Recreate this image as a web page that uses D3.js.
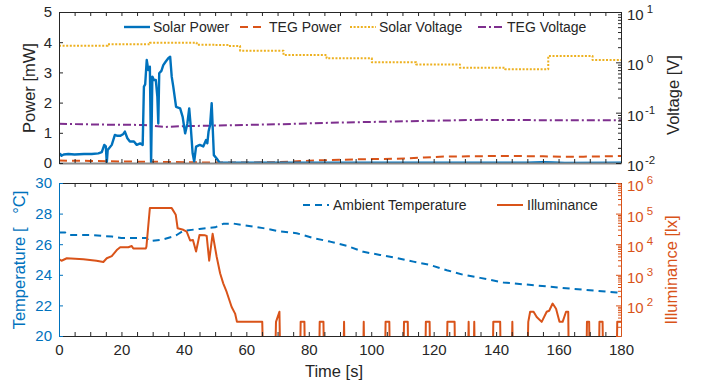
<!DOCTYPE html>
<html>
<head>
<meta charset="utf-8">
<script src="https://cdn.jsdelivr.net/npm/d3@7"></script>
<style>
  body { margin: 0; background: #fff; }
  svg { font-family: "Liberation Sans", Arial, Helvetica, sans-serif; }
</style>
</head>
<body>
<svg id="chart" width="711" height="384"></svg>
<script>
// ---- data ----
const solarPowerT = [0, 0.4, 0.8, 1.5, 3, 5, 8, 10.5, 12.6, 13.7, 14.5, 15, 15.3, 15.6, 16.9, 17.9, 18.7, 19.6, 20.5, 21.1, 21.9, 22.7, 24, 24.9, 26, 26.8, 27.2, 27.6, 28.1, 28.6, 29.1, 29.5, 29.9, 30.4, 31, 31.5, 31.8, 32.1, 32.8, 33.4, 34.2, 35, 35.6, 36.1, 36.6, 37.5, 38.8, 39.6, 40.4, 41.1, 41.7, 42.2, 42.8, 43.3, 43.9, 45.1, 46.2, 47.1, 47.5, 47.9, 48.4, 48.9, 49.4, 49.6, 50.5, 51.5, 52, 90, 150, 155, 158, 162, 180];
const solarPowerV = [0.26, 0.3, 0.24, 0.28, 0.3, 0.28, 0.3, 0.3, 0.32, 0.36, 0.6, 0.55, 0, 0.43, 0.6, 0.93, 0.9, 0.9, 0.95, 1.04, 0.82, 0.71, 0.71, 0.6, 0.65, 0.6, 2.53, 2.6, 3.41, 3.08, 3.19, 0, 2.86, 2.75, 2.75, 2.2, 1.31, 2.97, 3.05, 3.24, 3.36, 3.47, 3.52, 2.86, 2.53, 1.86, 1.81, 1.53, 0.98, 1.3, 1.81, 1.2, 0.32, 0.05, 0.54, 0.6, 0.55, 0.76, 0.65, 1.04, 1.26, 1.98, 0.76, 0.26, 0.15, 0, 0.01, 0.01, 0.01, 0.03, 0.02, 0, 0.01];

const tegPowerT = [0, 10, 20, 30, 45, 60, 70, 78, 84, 91, 100, 108, 117, 122, 131, 138, 147, 155, 161, 168, 180];
const tegPowerV = [0.08, 0.07, 0.05, 0.04, 0.02, 0.015, 0.03, 0.066, 0.09, 0.11, 0.13, 0.14, 0.18, 0.21, 0.22, 0.23, 0.23, 0.22, 0.21, 0.21, 0.23];

// step changes of the solar cell voltage
const solarVoltT = [0, 15.6, 29.1, 44.1, 50, 54, 58, 71.9, 85.7, 100.2, 114.4, 128.4, 142.9, 156.7, 170.9, 180];
const solarVoltV = [2.14, 2.28, 2.46, 2.24, 2.2, 2.11, 1.70, 1.40, 1.20, 1.0, 0.91, 0.78, 0.73, 1.34, 1.11, 1.11];

const tegVoltT = [0, 13, 27, 34, 40, 54, 71, 87, 103, 119, 135, 153, 180];
const tegVoltV = [0.060, 0.058, 0.057, 0.052, 0.054, 0.056, 0.059, 0.063, 0.066, 0.069, 0.072, 0.071, 0.071];

const ambientT = [0, 2, 3, 10, 17, 20, 28, 29, 33, 36.6, 37.7, 39.8, 45, 50, 52.6, 55.8, 65.4, 70.8, 76.1, 81.5, 86.8, 92.1, 97.5, 102.8, 108.2, 113.5, 118.9, 124.2, 129.5, 134.9, 142.3, 153, 163.7, 178.6, 180];
const ambientV = [26.76, 26.76, 26.6, 26.6, 26.5, 26.4, 26.4, 26.2, 26.3, 26.5, 26.6, 26.87, 27.0, 27.1, 27.33, 27.35, 27.05, 26.83, 26.72, 26.4, 26.17, 25.9, 25.5, 25.3, 25.1, 24.86, 24.64, 24.3, 24.0, 23.8, 23.5, 23.3, 23.1, 22.85, 22.8];

// illuminance in lx, 1 = sensor off (below the axis)
const illumT = [0, 0.8, 2.5, 7.8, 12, 14.2, 15.3, 16.9, 18.5, 19.6, 22.2, 23.3, 23.8, 26, 27.8, 28.0, 29.1, 36.1, 37.4, 38.0, 39.8, 40.9, 42, 42.9, 43.9, 45, 46.8, 47.3, 48.1, 49.2, 50.5, 51.6, 52.6, 53.7, 55.3, 56.4, 57, 65.1, 65.4,
  69.2, 69.5, 70.6, 70.9, 77.2, 77.4, 78.6, 78.8, 83.3, 83.5, 84.7, 84.9, 91.1, 91.3, 91.5, 97.4, 97.6, 97.8, 104.4, 104.6, 105.8, 106, 110.3, 110.5, 111.7, 111.9,
  117.3, 117.5, 118.7, 118.9, 124.2, 124.4, 126.7, 126.9, 131, 131.2, 131.4, 132.8, 133, 133.2, 138.9, 139.1, 141.3, 141.5, 145, 145.2, 145.4,
  150, 150.3, 150.9, 152, 153, 154.6, 156.2, 157, 158.1, 159.2, 160.3, 161.3, 162.4, 163.1, 163.3, 168.9, 169.1, 169.8, 170, 172.9, 173.1, 174.1, 174.3, 178.6, 178.8, 180];
const illumV = [3240, 2880, 3470, 3240, 2880, 2630, 3470, 4070, 6460, 7940, 7940, 8710, 7240, 7240, 7240, 8300, 151000, 151000, 91000, 33000, 29500, 25700, 13200, 13800, 5750, 20000, 19500, 18600, 2880, 21900, 3890, 1120, 525, 275, 89, 54, 29, 29, 1,
  1, 29, 62, 1, 1, 29, 29, 1, 1, 29, 29, 1, 1, 29, 1, 1, 29, 1, 1, 29, 29, 1, 1, 29, 29, 1,
  1, 29, 29, 1, 1, 29, 29, 1, 1, 29, 1, 1, 29, 1, 1, 29, 29, 1, 1, 29, 1,
  1, 29, 62, 62, 42, 29, 62, 67, 115, 78, 29, 29, 62, 62, 1, 1, 29, 29, 1, 1, 29, 29, 1, 1, 29, 29];

const timeTicks = d3.range(0, 181, 5);
const timeLabels = [0, 20, 40, 60, 80, 100, 120, 140, 160, 180];
const powerTicks = [0, 1, 2, 3, 4, 5];
const voltDecades = [-2, -1, 0, 1];
const tempTicks = [20, 22, 24, 26, 28, 30];
const illumDecades = [1, 2, 3, 4, 5, 6];

const topLegend = ['Solar Power', 'TEG Power', 'Solar Voltage', 'TEG Voltage'];
const bottomLegend = ['Ambient Temperature', 'Illuminance'];

// ---- colours and layout ----
const BLUE = '#0072BD', ORANGE = '#D95319', YELLOW = '#EDB120', PURPLE = '#7E2F8E', AX = '#262626';
const left = 59, right = 621;
const topPanel = { y0: 12, y1: 163 };
const botPanel = { y0: 183, y1: 336 };

const svg = d3.select('#chart');

const x = d3.scaleLinear().domain([0, 180]).range([left, right]);
const yPow = d3.scaleLinear().domain([0, 5]).range([topPanel.y1, topPanel.y0]);
const yVolt = d3.scaleLog().domain([0.01, 10]).range([topPanel.y1, topPanel.y0]);
const yTemp = d3.scaleLinear().domain([20, 30]).range([botPanel.y1, botPanel.y0]);
const yLux = d3.scaleLog().domain([10, 1e6]).range([botPanel.y1, botPanel.y0]);

const defs = svg.append('defs');
[['clipTop', topPanel], ['clipBot', botPanel]].forEach(([id, p]) => {
  defs.append('clipPath').attr('id', id)
    .append('rect').attr('x', left).attr('y', p.y0).attr('width', right - left).attr('height', p.y1 - p.y0);
});

function series(ts, vs) {
  return ts.map((t, i) => ({ t: t, v: vs[i] }));
}

function drawLine(g, data, yScale, color, dash, width, curve) {
  const line = d3.line().x(d => x(d.t)).y(d => yScale(d.v)).curve(curve || d3.curveLinear);
  g.append('path')
    .datum(data)
    .attr('fill', 'none')
    .attr('stroke', color)
    .attr('stroke-width', width)
    .attr('stroke-dasharray', dash)
    .attr('stroke-linejoin', 'round')
    .attr('d', line);
}

function styleAxis(g, color) {
  g.selectAll('path, line').attr('stroke', color);
  g.selectAll('text').attr('fill', color).style('font-size', '15px');
  g.select('.domain').attr('stroke-width', 1);
}

function logLabels(g, decades, yScale, xPos, color) {
  decades.forEach(e => {
    const yy = yScale(Math.pow(10, e));
    g.append('text').attr('fill', color).style('font-size', '15px')
      .attr('x', xPos).attr('y', yy + 8).text('10');
    g.append('text').attr('fill', color).style('font-size', '11.5px')
      .attr('x', xPos + 23).attr('y', yy + 1).attr('text-anchor', 'middle')
      .text(String(e));
  });
}

function minorLogTicks(lo, hi) {
  const out = [];
  for (let e = lo; e < hi; e++) {
    for (let k = 2; k <= 9; k++) out.push(k * Math.pow(10, e));
  }
  return out;
}

function timeAxes(p, withLabels) {
  const b = svg.append('g').attr('transform', `translate(0,${p.y1})`)
    .call(d3.axisBottom(x).tickValues(timeTicks).tickSize(-4).tickSizeOuter(0).tickPadding(8)
      .tickFormat(d => (withLabels && timeLabels.includes(d)) ? d : ''));
  styleAxis(b, AX);
  const t = svg.append('g').attr('transform', `translate(0,${p.y0})`)
    .call(d3.axisTop(x).tickValues(timeTicks).tickSize(-4).tickSizeOuter(0).tickFormat(''));
  styleAxis(t, AX);
  return b;
}

// ---- top panel: power and voltage ----
const gTop = svg.append('g').attr('clip-path', 'url(#clipTop)');
drawLine(gTop, series(solarVoltT, solarVoltV), yVolt, YELLOW, '2,1.6', 2, d3.curveStepAfter);
drawLine(gTop, series(tegVoltT, tegVoltV), yVolt, PURPLE, '8,3,2,3', 2);
drawLine(gTop, series(tegPowerT, tegPowerV), yPow, ORANGE, '8,5', 2);
drawLine(gTop, series(solarPowerT, solarPowerV), yPow, BLUE, null, 2.4);

const topBottom = timeAxes(topPanel, false);
topBottom.select('.domain').attr('stroke', '#8a8a8a').attr('stroke-width', 2);

const axPow = svg.append('g').attr('transform', `translate(${left},0)`)
  .call(d3.axisLeft(yPow).tickValues(powerTicks).tickSize(-4).tickSizeOuter(0).tickPadding(7).tickFormat(d3.format('d')));
styleAxis(axPow, AX);

const axVolt = svg.append('g').attr('transform', `translate(${right},0)`)
  .call(d3.axisRight(yVolt).tickValues(voltDecades.map(e => Math.pow(10, e))).tickSize(-5).tickSizeOuter(0).tickFormat(''));
styleAxis(axVolt, AX);
const axVoltMinor = svg.append('g').attr('transform', `translate(${right},0)`)
  .call(d3.axisRight(yVolt).tickValues(minorLogTicks(-2, 1)).tickSize(-3).tickSizeOuter(0).tickFormat(''));
styleAxis(axVoltMinor, AX);
axVoltMinor.select('.domain').remove();
logLabels(svg.append('g'), voltDecades, yVolt, right + 6, AX);

svg.append('text').attr('transform', 'translate(35,88) rotate(-90)')
  .attr('text-anchor', 'middle').attr('fill', AX).style('font-size', '16.5px').text('Power [mW]');
svg.append('text').attr('transform', 'translate(679,95) rotate(-90)')
  .attr('text-anchor', 'middle').attr('fill', AX).style('font-size', '16.5px').text('Voltage [V]');

// top legend
const topLegendPos = [124, 240, 350, 478];
const topLegendStyle = [[BLUE, null, 2.4], [ORANGE, '8,5', 2], [YELLOW, '2,1.6', 2], [PURPLE, '8,3,2,3', 2]];
topLegend.forEach((name, i) => {
  const lx = topLegendPos[i];
  const [c, dash, w] = topLegendStyle[i];
  svg.append('line').attr('x1', lx).attr('x2', lx + 26).attr('y1', 27).attr('y2', 27)
    .attr('stroke', c).attr('stroke-width', w).attr('stroke-dasharray', dash);
  svg.append('text').attr('x', lx + 29).attr('y', 32).attr('fill', AX).style('font-size', '14px').text(name);
});

// ---- bottom panel: temperature and illuminance ----
const gBot = svg.append('g').attr('clip-path', 'url(#clipBot)');
drawLine(gBot, series(ambientT, ambientV), yTemp, BLUE, '7,5', 2);
drawLine(gBot, series(illumT, illumV), yLux, ORANGE, null, 2);

timeAxes(botPanel, true);

const axTemp = svg.append('g').attr('transform', `translate(${left},0)`)
  .call(d3.axisLeft(yTemp).tickValues(tempTicks).tickSize(-4).tickSizeOuter(0).tickPadding(7));
styleAxis(axTemp, BLUE);

const axLux = svg.append('g').attr('transform', `translate(${right},0)`)
  .call(d3.axisRight(yLux).tickValues(illumDecades.map(e => Math.pow(10, e))).tickSize(-5).tickSizeOuter(0).tickFormat(''));
styleAxis(axLux, ORANGE);
const axLuxMinor = svg.append('g').attr('transform', `translate(${right},0)`)
  .call(d3.axisRight(yLux).tickValues(minorLogTicks(1, 6)).tickSize(-3).tickSizeOuter(0).tickFormat(''));
styleAxis(axLuxMinor, ORANGE);
axLuxMinor.select('.domain').remove();
logLabels(svg.append('g'), illumDecades.slice(1), yLux, right + 6, ORANGE);

svg.append('text').attr('transform', 'translate(25,260) rotate(-90)')
  .attr('text-anchor', 'middle').attr('fill', BLUE).style('font-size', '16.5px').text('Temperature [\u00a0\u00a0\u00a0°C]');
svg.append('text').attr('transform', 'translate(677,270) rotate(-90)')
  .attr('text-anchor', 'middle').attr('fill', ORANGE).style('font-size', '16.5px').text('Illuminance [lx]');
svg.append('text').attr('x', 334).attr('y', 377)
  .attr('text-anchor', 'middle').attr('fill', AX).style('font-size', '16.5px').text('Time [s]');

// bottom legend
const botLegendPos = [303, 497];
const botLegendStyle = [[BLUE, '7,5', 2], [ORANGE, null, 2]];
bottomLegend.forEach((name, i) => {
  const lx = botLegendPos[i];
  const [c, dash, w] = botLegendStyle[i];
  svg.append('line').attr('x1', lx).attr('x2', lx + 26).attr('y1', 205).attr('y2', 205)
    .attr('stroke', c).attr('stroke-width', w).attr('stroke-dasharray', dash);
  svg.append('text').attr('x', lx + 30).attr('y', 210).attr('fill', AX).style('font-size', '14px').text(name);
});
</script>
</body>
</html>
